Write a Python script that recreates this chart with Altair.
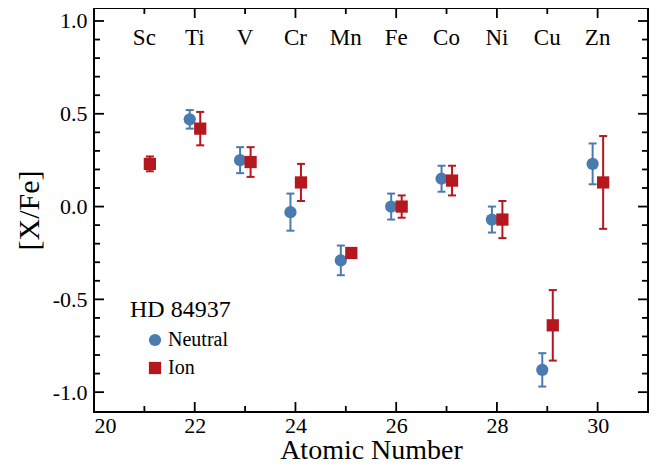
import altair as alt
import pandas as pd

# ---- data ----
elements = ["Sc", "Ti", "V", "Cr", "Mn", "Fe", "Co", "Ni", "Cu", "Zn"]
atomic_number = [21, 22, 23, 24, 25, 26, 27, 28, 29, 30]
neutral_val = [None, 0.47, 0.25, -0.03, -0.29, 0.00, 0.15, -0.07, -0.88, 0.23]
neutral_err = [None, 0.05, 0.07, 0.10, 0.08, 0.07, 0.07, 0.07, 0.09, 0.11]
ion_val = [0.23, 0.42, 0.24, 0.13, -0.25, 0.00, 0.14, -0.07, -0.64, 0.13]
ion_err = [0.04, 0.09, 0.08, 0.10, None, 0.06, 0.08, 0.10, 0.19, 0.25]

series_names = ["Neutral", "Ion"]
series_colors = ["#4a7bb0", "#b5171f"]
series_shapes = ["circle", "square"]
star_name = "HD 84937"

x_major = [20, 22, 24, 26, 28, 30]
x_minor = [21, 23, 25, 27, 29]
y_major = [-1.0, -0.5, 0.0, 0.5, 1.0]
y_minor = [-0.9, -0.8, -0.7, -0.6, -0.4, -0.3, -0.2, -0.1,
           0.1, 0.2, 0.3, 0.4, 0.6, 0.7, 0.8, 0.9]

# ---- tables ----
rows = []
for z, nv, ne, iv, ie in zip(atomic_number, neutral_val, neutral_err, ion_val, ion_err):
    if nv is not None:
        rows.append({"Z": z, "series": "Neutral", "val": nv, "err": ne})
    if iv is not None:
        rows.append({"Z": z, "series": "Ion", "val": iv, "err": ie})
df = pd.DataFrame(rows)
df["lo"] = df["val"] - df["err"]
df["hi"] = df["val"] + df["err"]
df_err = df.dropna(subset=["err"])

df_el = pd.DataFrame({"Z": atomic_number, "el": elements})

W, H = 554, 404
FONT = "Liberation Serif"
XDOM = [20, 31]
YDOM = [-1.107, 1.07]
OFFSETS = [-5, 5.5]

xs = alt.Scale(domain=XDOM, nice=False, zero=False)
ys = alt.Scale(domain=YDOM, nice=False, zero=False)

color = alt.Color("series:N", scale=alt.Scale(domain=series_names, range=series_colors),
                  legend=alt.Legend(title=star_name, orient="none", legendX=36, legendY=290,
                                    titleFontSize=24, titleFont=FONT, titleFontWeight="normal",
                                    titleColor="black", titlePadding=8,
                                    labelFontSize=20, labelFont=FONT, labelColor="black",
                                    symbolSize=150, symbolOffset=15, labelOffset=3,
                                    rowPadding=8, symbolStrokeWidth=0))
shape = alt.Shape("series:N", scale=alt.Scale(domain=series_names, range=series_shapes))

base_x = alt.X("Z:Q", scale=xs,
               axis=alt.Axis(values=x_major, format="d", ticks=False, domain=False, grid=False,
                             labelFontSize=22, labelFont=FONT, labelColor="black", labelPadding=3,
                             title="Atomic Number", titleFontSize=28, titleFont=FONT,
                             titleFontWeight="normal", titleColor="black",
                             titleBaseline="alphabetic", titleY=46))
base_y_axis = alt.Axis(values=y_major, ticks=False, domain=False, grid=False,
                       labelExpr="replace(format(datum.value, '.1f'), '\u2212', '-')",
                       labelFontSize=22, labelFont=FONT, labelColor="black", labelPadding=7,
                       title="[X/Fe]", titleFontSize=30, titleFont=FONT,
                       titleFontWeight="normal", titleColor="black", titlePadding=8)

# zero line
zero = alt.Chart(pd.DataFrame({"y": [0.0]})).mark_rule(
    color="black", strokeDash=[2, 2.5], strokeWidth=1.6
).encode(y=alt.Y("y:Q", scale=ys, axis=base_y_axis))

layers = [zero]
for name, col, off in zip(series_names, series_colors, OFFSETS):
    c = alt.Chart(df_err).transform_filter(alt.datum.series == name)
    layers.append(c.mark_rule(strokeWidth=2, color=col).encode(
        x=alt.X("Z:Q", scale=xs), y=alt.Y("lo:Q", scale=ys), y2="hi:Q", xOffset=alt.value(off)))
    for fld in ["lo", "hi"]:
        layers.append(c.mark_tick(orient="horizontal", size=8, thickness=2, color=col, opacity=1).encode(
            x=alt.X("Z:Q", scale=xs), y=alt.Y(f"{fld}:Q", scale=ys), xOffset=alt.value(off)))

for name, off in zip(series_names, OFFSETS):
    c = alt.Chart(df).transform_filter(alt.datum.series == name)
    layers.append(c.mark_point(filled=True, opacity=1, size=150).encode(
        x=alt.X("Z:Q", scale=xs), y=alt.Y("val:Q", scale=ys),
        color=color, shape=shape, xOffset=alt.value(off)))

# element labels
labels = alt.Chart(df_el).mark_text(font=FONT, fontSize=23, color="black", baseline="middle").encode(
    x=alt.X("Z:Q", scale=xs), y=alt.value(30), text="el:N")
layers.append(labels)


# inward ticks on all four sides
def tick_layer(vals, length, side):
    d = pd.DataFrame({"v": vals})
    c = alt.Chart(d).mark_rule(color="black", strokeWidth=1.8)
    if side == "left":
        return c.encode(y=alt.Y("v:Q", scale=ys), x=alt.value(0), x2=alt.value(length))
    if side == "right":
        return c.encode(y=alt.Y("v:Q", scale=ys), x=alt.value(W - length), x2=alt.value(W))
    if side == "bottom":
        return c.encode(x=alt.X("v:Q", scale=xs), y=alt.value(H - length), y2=alt.value(H))
    return c.encode(x=alt.X("v:Q", scale=xs), y=alt.value(0), y2=alt.value(length))


for side in ["left", "right"]:
    layers.append(tick_layer(y_major, 10, side))
    layers.append(tick_layer(y_minor, 6, side))
for side in ["bottom", "top"]:
    layers.append(tick_layer(x_major, 10, side))
    layers.append(tick_layer(x_minor, 6, side))

chart = alt.layer(*layers).encode(x=base_x).properties(
    width=W, height=H,
    autosize=alt.AutoSizeParams(type="none"),
    padding={"left": 86, "top": 0, "right": 4, "bottom": 52},
).configure(background="white", font=FONT).configure_view(
    stroke="black", strokeWidth=2
).configure_legend(labelFont=FONT, titleFont=FONT)

chart.save("out.html", embed_options={"renderer": "svg", "actions": False})
